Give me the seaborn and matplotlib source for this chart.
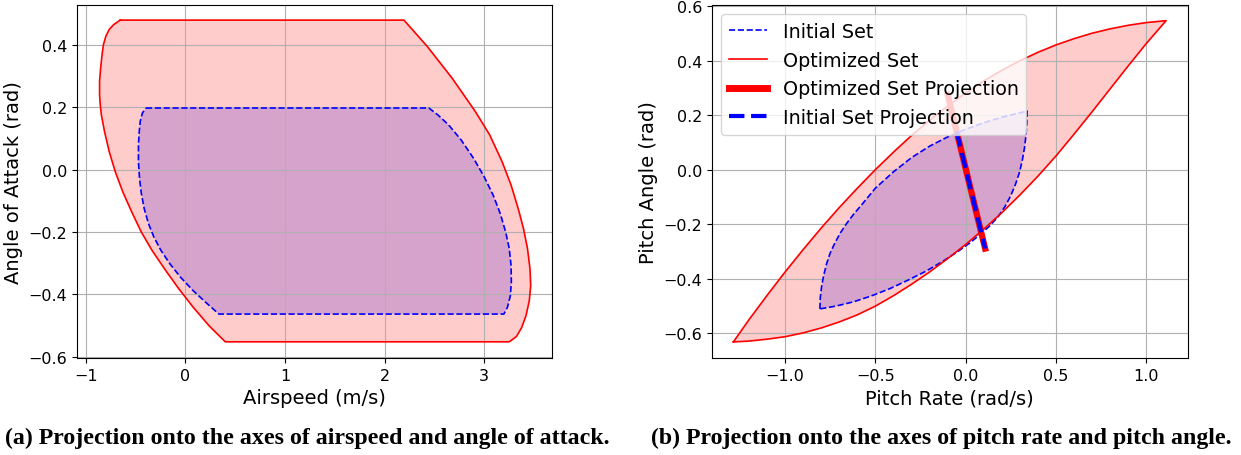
import numpy as np
import pandas as pd
import matplotlib
matplotlib.use("Agg")
import matplotlib.pyplot as plt
from matplotlib.lines import Line2D
import seaborn as sns

# ---- (a) airspeed vs angle of attack ----
opt_a_x = [-0.652, 2.194, 2.427, 2.677, 2.910, 3.054, 3.179, 3.269, 3.341, 3.394,
           3.434, 3.459, 3.466, 3.452, 3.419, 3.376, 3.323, 3.251,
           0.401, 0.240, 0.079, -0.065, -0.208, -0.333, -0.441, -0.538, -0.627,
           -0.703, -0.763, -0.810, -0.842, -0.853, -0.860, -0.860, -0.849, -0.835,
           -0.821, -0.796, -0.763, -0.717]
opt_a_y = [0.480, 0.480, 0.396, 0.294, 0.187, 0.112, 0.026, -0.049, -0.125, -0.189,
           -0.253, -0.318, -0.372, -0.420, -0.468, -0.506, -0.535, -0.552,
           -0.552, -0.501, -0.441, -0.382, -0.318, -0.259, -0.200, -0.135, -0.071,
           -0.006, 0.058, 0.122, 0.176, 0.208, 0.241, 0.284, 0.327, 0.369,
           0.402, 0.429, 0.450, 0.466]

init_a_x = [-0.394, 2.444, 2.534, 2.642, 2.767, 2.892, 3.000, 3.090, 3.161, 3.215,
            3.251, 3.269, 3.272, 3.262, 3.233, 3.197,
            0.337, 0.204, 0.079, -0.047, -0.154, -0.244, -0.315, -0.369, -0.412,
            -0.441, -0.459, -0.470, -0.470, -0.462, -0.452, -0.430]
init_a_y = [0.198, 0.198, 0.176, 0.144, 0.096, 0.037, -0.023, -0.082, -0.141, -0.200,
            -0.253, -0.307, -0.361, -0.404, -0.441, -0.463,
            -0.463, -0.425, -0.388, -0.345, -0.302, -0.259, -0.216, -0.173, -0.125,
            -0.076, -0.028, 0.026, 0.079, 0.122, 0.155, 0.182]

# ---- (b) pitch rate vs pitch angle ----
opt_b_x = [-1.286, -1.2, -1.1, -1.0, -0.9, -0.8, -0.7, -0.6, -0.5, -0.4, -0.3, -0.2,
           -0.1, 0.0, 0.1, 0.2, 0.3, 0.4, 0.5, 0.6, 0.7, 0.8, 0.9, 1.0, 1.11,
           1.0, 0.9, 0.8, 0.7, 0.6, 0.5, 0.4, 0.3, 0.2, 0.1, 0.0, -0.1, -0.2, -0.3,
           -0.4, -0.5, -0.6, -0.7, -0.8, -0.9, -1.0, -1.1, -1.2]
opt_b_y = [-0.631, -0.550, -0.461, -0.375, -0.293, -0.214, -0.139, -0.068, 0.000,
           0.064, 0.125, 0.181, 0.233, 0.281, 0.325, 0.364, 0.399, 0.430, 0.457,
           0.480, 0.500, 0.516, 0.529, 0.539, 0.546,
           0.462, 0.380, 0.296, 0.212, 0.130, 0.050, -0.024, -0.093, -0.158, -0.218,
           -0.274, -0.326, -0.375, -0.420, -0.462, -0.500, -0.532, -0.558, -0.580,
           -0.598, -0.612, -0.621, -0.628]

init_b_x = [-0.807, -0.805, -0.798, -0.787, -0.770, -0.750, -0.725, -0.695, -0.660,
            -0.620, -0.570, -0.500, -0.400, -0.300, -0.200, -0.100, 0.000, 0.100,
            0.200, 0.280, 0.341,
            0.339, 0.334, 0.326, 0.314, 0.298, 0.277, 0.250, 0.218, 0.180, 0.135,
            0.083, 0.020, -0.050, -0.130, -0.220, -0.320, -0.420, -0.520, -0.620,
            -0.720]
init_b_y = [-0.510, -0.470, -0.430, -0.390, -0.345, -0.305, -0.270, -0.233, -0.198,
            -0.163, -0.124, -0.068, -0.008, 0.044, 0.086, 0.120, 0.148, 0.172,
            0.192, 0.205, 0.215,
            0.170, 0.125, 0.080, 0.035, -0.010, -0.052, -0.095, -0.135, -0.172, -0.205,
            -0.236, -0.270, -0.303, -0.337, -0.372, -0.405, -0.436, -0.462, -0.484,
            -0.500]

opt_proj_x = [-0.099, 0.108]
opt_proj_y = [0.274, -0.289]
init_proj_x = [-0.050, 0.108]
init_proj_y = [0.140, -0.289]


def closed(xs, ys):
    return pd.DataFrame({"x": list(xs) + [xs[0]], "y": list(ys) + [ys[0]]})


def draw_sets(ax, init_x, init_y, opt_x, opt_y):
    init = closed(init_x, init_y)
    opt = closed(opt_x, opt_y)
    ax.fill(init["x"], init["y"], color="blue", alpha=0.2, lw=0)
    sns.lineplot(data=init, x="x", y="y", sort=False, estimator=None, ax=ax,
                 color="blue", lw=1.2, linestyle="--")
    ax.fill(opt["x"], opt["y"], color="red", alpha=0.2, lw=0)
    sns.lineplot(data=opt, x="x", y="y", sort=False, estimator=None, ax=ax,
                 color="red", lw=1.2)


fig = plt.figure(figsize=(12.41, 4.56), dpi=100)
ax1 = fig.add_axes([0.0620, 0.2127, 0.3825, 0.7745])
ax2 = fig.add_axes([0.5735, 0.2127, 0.3836, 0.7745])

draw_sets(ax1, init_a_x, init_a_y, opt_a_x, opt_a_y)
ax1.set_xlim(-1.087, 3.676)
ax1.set_ylim(-0.604, 0.529)
ax1.set_xlabel("Airspeed (m/s)", fontsize=14)
ax1.set_ylabel("Angle of Attack (rad)", fontsize=14)

draw_sets(ax2, init_b_x, init_b_y, opt_b_x, opt_b_y)
sns.lineplot(x=opt_proj_x, y=opt_proj_y, sort=False, estimator=None, ax=ax2,
             color="red", lw=4.5)
sns.lineplot(x=init_proj_x, y=init_proj_y, sort=False, estimator=None, ax=ax2,
             color="blue", lw=3, linestyle="--")
ax2.set_xlim(-1.406, 1.23)
ax2.set_ylim(-0.69, 0.604)
ax2.set_xlabel("Pitch Rate (rad/s)", fontsize=14)
ax2.set_ylabel("Pitch Angle (rad)", fontsize=14)

for ax in (ax1, ax2):
    ax.grid(True, color="#b0b0b0", lw=0.8)
    ax.set_axisbelow("line")
    ax.tick_params(labelsize=11.5)

handles = [
    Line2D([], [], color="blue", lw=1.2, linestyle="--"),
    Line2D([], [], color="red", lw=1.2),
    Line2D([], [], color="red", lw=5),
    Line2D([], [], color="blue", lw=3, linestyle="--"),
]
labels = ["Initial Set", "Optimized Set", "Optimized Set Projection",
          "Initial Set Projection"]
ax2.legend(handles, labels, loc="upper left", fontsize=13.8)

cap_font = dict(family="Liberation Serif", weight="bold", fontsize=17.2,
                va="center", ha="left")
fig.text(5 / 1241, 0.0395, "(a) Projection onto the axes of airspeed and angle of attack.",
         **cap_font)
fig.text(651 / 1241, 0.0395, "(b) Projection onto the axes of pitch rate and pitch angle.",
         **cap_font)

fig.savefig("out.png", dpi=100)
